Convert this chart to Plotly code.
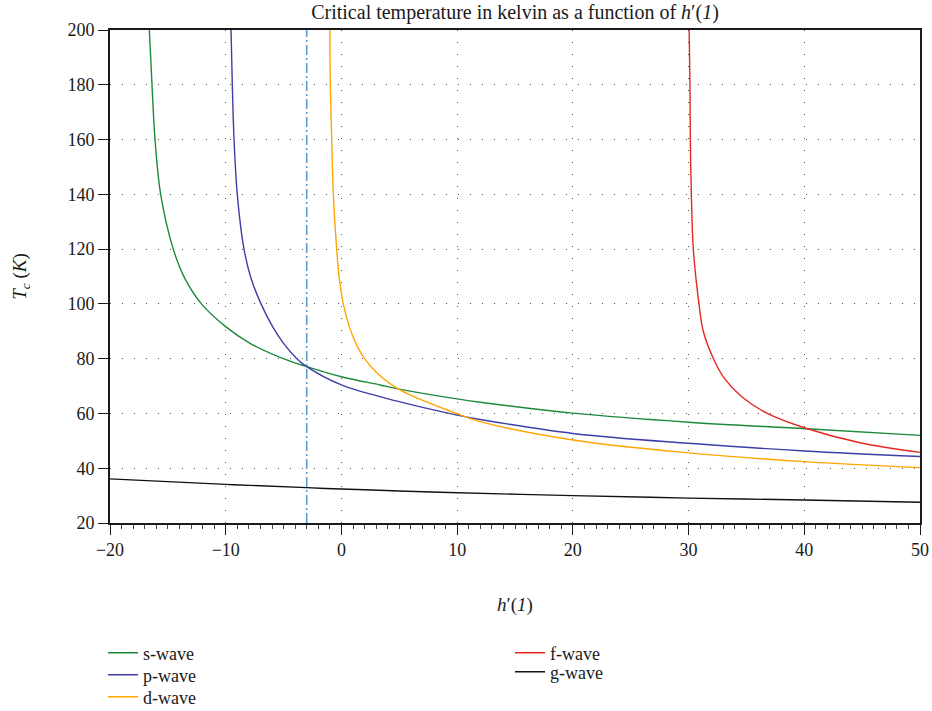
import plotly.graph_objects as go

# ---- data ----
s_h = [-16.6, -16.37, -16.11, -15.62, -14.53, -13.52, -12.1, -10.0, -7.9, -5.02, -3.0, 0.0, 3.33, 5.0, 10.0, 12.0, 20.0, 30.0, 40.2, 50.0]
s_T = [200, 180, 160, 140, 120, 109.2, 100, 91.7, 85.6, 80, 77.1, 73.4, 70.4, 68.9, 65.3, 64.1, 60.1, 56.8, 54.4, 52.0]

p_h = [-9.54, -9.43, -9.28, -9.0, -8.42, -7.8, -6.95, -5.95, -5.0, -3.85, -3.0, 0.0, 5.0, 10.0, 12.0, 20.0, 30.0, 40.0, 50.0]
p_T = [200, 180, 160, 140, 120, 109.2, 100, 91.7, 85.6, 80, 77.1, 70.4, 64.3, 59.4, 57.8, 52.7, 49.1, 46.3, 44.3]

d_h = [-1.0, -0.96, -0.84, -0.70, -0.41, -0.18, 0.16, 0.68, 1.25, 2.0, 3.1, 5.06, 10.0, 12.0, 20.0, 30.0, 40.0, 50.0]
d_T = [200, 180, 160, 140, 120, 109.2, 100, 91.7, 85.6, 80, 74.7, 68.6, 59.9, 57.0, 50.3, 45.6, 42.4, 40.2]

f_h = [30.05, 30.12, 30.15, 30.24, 30.41, 30.90, 31.27, 32.15, 33.1, 34.6, 36.8, 40.2, 44.82, 50.0]
f_T = [200, 180, 160, 140, 120, 100, 90, 80, 72.8, 66.1, 60.0, 54.5, 49.3, 45.8]

g_h = [-20, -10, -3, 0, 5, 8.5, 20, 30, 40, 50]
g_T = [36.1, 34.1, 32.9, 32.4, 31.7, 31.2, 30.0, 29.1, 28.4, 27.6]

marker_h = -3.0
x_ticks = [-20, -10, 0, 10, 20, 30, 40, 50]
y_ticks = [20, 40, 60, 80, 100, 120, 140, 160, 180, 200]

FONT = "Liberation Serif"
TXT = "#1a1a1a"

fig = go.Figure()
series = [
    ("s-wave", s_h, s_T, "#1b8a3b", "legend"),
    ("p-wave", p_h, p_T, "#3c3fa7", "legend2"),
    ("d-wave", d_h, d_T, "#ffa500", "legend3"),
    ("f-wave", f_h, f_T, "#e2281f", "legend4"),
    ("g-wave", g_h, g_T, "#111111", "legend5"),
]
for name, xs, ys, col, lg in series:
    fig.add_trace(go.Scatter(x=xs, y=ys, mode="lines", name=name,
                             line=dict(color=col, width=1.4, shape="spline", smoothing=1.0),
                             legend=lg))

fig.add_trace(go.Scatter(x=[marker_h, marker_h], y=[20, 200], mode="lines",
                         line=dict(color="#5b9bd5", width=1.6, dash="10px,3px,2px,3px"),
                         showlegend=False))

W, H = 932, 711
L, T_, PW, PH = 110, 30, 810, 493


def px_y(y_win):
    return (T_ + PH - y_win) / PH


def px_x(x_win):
    return (x_win - L) / PW


leg_common = dict(orientation="v", font=dict(family=FONT, size=18, color=TXT),
                  itemwidth=30, bgcolor="rgba(0,0,0,0)", xanchor="left", yanchor="middle",
                  tracegroupgap=0)

fig.update_layout(
    width=W, height=H,
    margin=dict(l=L, r=W - L - PW, t=T_, b=H - T_ - PH, autoexpand=False),
    paper_bgcolor="white", plot_bgcolor="white",
    font=dict(family=FONT, size=18, color=TXT),
    title=dict(text="Critical temperature in kelvin as a function of <i>h</i>′(<i>1</i>)",
               x=515 / W, xanchor="center", xref="container",
               y=1 - 5 / H, yanchor="top", yref="container", pad=dict(t=0, b=0),
               font=dict(family=FONT, size=20, color=TXT)),
    xaxis=dict(range=[-20, 50], tickvals=x_ticks, showline=True, linecolor="#1a1a1a", linewidth=1.6,
               mirror=True, ticks="outside", ticklen=10, tickwidth=1.2, tickcolor="#1a1a1a",
               minor=dict(dtick=1, ticks="outside", ticklen=4, tickwidth=1, tickcolor="#444", showgrid=False),
               showgrid=True, gridcolor="#555", griddash="1px,11px", gridwidth=1,
               zeroline=False, automargin=False,
               tickfont=dict(family=FONT, size=18, color=TXT),
               title=dict(text="<i>h</i>′(<i>1</i>)", standoff=38, font=dict(size=19))),
    yaxis=dict(range=[20, 200], tickvals=y_ticks, showline=True, linecolor="#1a1a1a", linewidth=1.6,
               mirror=True, ticks="outside", ticklen=10, tickwidth=1.2, tickcolor="#1a1a1a",
               showgrid=True, gridcolor="#555", griddash="1px,11px", gridwidth=1,
               zeroline=False, automargin=False,
               tickfont=dict(family=FONT, size=18, color=TXT),
               title=dict(text="<i>T<sub>c</sub></i> (<i>K</i>)", standoff=36, font=dict(size=19))),
    legend=dict(x=px_x(103), y=px_y(653), **leg_common),
    legend2=dict(x=px_x(103), y=px_y(675), **leg_common),
    legend3=dict(x=px_x(103), y=px_y(697), **leg_common),
    legend4=dict(x=px_x(510), y=px_y(653), **leg_common),
    legend5=dict(x=px_x(510), y=px_y(672), **leg_common),
)

fig.write_html("out.html", config={"displayModeBar": False},
               post_script="document.body.style.margin='0';document.documentElement.style.overflow='hidden';")
